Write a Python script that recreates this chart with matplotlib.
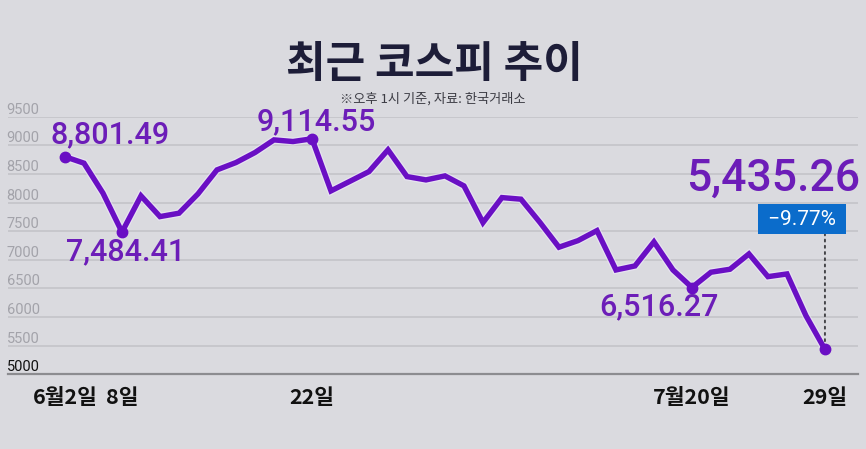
import matplotlib
matplotlib.use("Agg")
import matplotlib.pyplot as plt
import matplotlib.patheffects as pe

# ---------------- data ----------------
dates = ["6/2", "6/4", "6/5", "6/8", "6/9", "6/10", "6/11", "6/12", "6/15", "6/16",
         "6/17", "6/18", "6/19", "6/22", "6/23", "6/24", "6/25", "6/26", "6/29", "6/30",
         "7/1", "7/2", "7/3", "7/6", "7/7", "7/8", "7/9", "7/10", "7/13", "7/14",
         "7/15", "7/16", "7/17", "7/20", "7/21", "7/22", "7/23", "7/24", "7/27", "7/28",
         "7/29"]
kospi = [8801.49, 8688, 8164, 7484.41, 8117, 7755, 7814, 8152, 8571, 8699,
         8874, 9095, 9066, 9114.55, 8204, 8372, 8541, 8921, 8454, 8396,
         8466, 8291, 7650, 8087, 8059, 7653, 7220, 7335, 7510, 6823,
         6893, 7313, 6823, 6516.27, 6783, 6835, 7103, 6706, 6753, 6024,
         5435.26]
xtick_idx = [0, 3, 13, 33, 40]
xtick_labels = ["6월2일", "8일", "22일", "7월20일", "29일"]
ytick_vals = [5000, 5500, 6000, 6500, 7000, 7500, 8000, 8500, 9000, 9500]
ytick_labels = [str(v) for v in ytick_vals]
highlight_idx = [0, 3, 13, 33, 40]
change_label = "−9.77%"
title = "최근 코스피 추이"
subtitle = "※오후 1시 기준, 자료: 한국거래소"

# ---------------- style ----------------
BG = "#dadadf"
PURPLE = "#6a0fc4"
TXT_PURPLE = "#6c1db8"
KR = ["Noto Sans CJK KR", "DejaVu Sans"]
NUM = ["Roboto", "DejaVu Sans"]

W, H = 866, 449
fig = plt.figure(figsize=(W / 100, H / 100), dpi=100, facecolor=BG)

ax_left, ax_right = 8, 858
ax_top, ax_bottom = 116.7, 374.3
ax = fig.add_axes([ax_left / W, (H - ax_bottom) / H,
                   (ax_right - ax_left) / W, (ax_bottom - ax_top) / H])
ax.set_facecolor("none")
ax.set_xlim(-3.0, 41.74)
ax.set_ylim(5000, 9500)

for s in ["top", "right", "left"]:
    ax.spines[s].set_visible(False)
ax.spines["bottom"].set_color("#8c8c90")
ax.spines["bottom"].set_linewidth(1.6)

ax.set_yticks(ytick_vals)
ax.set_yticklabels(ytick_labels, ha="left", va="bottom", fontsize=10.5,
                   color="#a3a3aa", family=NUM)
ax.get_yticklabels()[0].set_color("#111111")
ax.tick_params(axis="y", length=0, pad=1)
ax.grid(axis="y", color="#c5c5ca", linewidth=1.3)
ax.set_axisbelow(True)

ax.set_xticks(xtick_idx)
ax.set_xticklabels(xtick_labels, fontsize=15.5, fontweight="bold",
                   color="#111111", family=KR)
ax.tick_params(axis="x", length=0, pad=9)

x = list(range(len(kospi)))
ax.plot(x, kospi, color=PURPLE, linewidth=3.9, solid_joinstyle="miter",
        solid_capstyle="round", zorder=3,
        path_effects=[pe.Stroke(linewidth=5.7, foreground="#f2ecff", alpha=0.55),
                      pe.Normal()])
ax.plot([x[i] for i in highlight_idx], [kospi[i] for i in highlight_idx],
        linestyle="none", marker="o", markersize=7.5, color=PURPLE, zorder=4)

def fmt(v):
    return f"{v:,.2f}"

# annotations (offsets in pixels from the data point)
offsets = {0: (45, 22, 22), 3: (4, -20, 22), 13: (4, 17, 22),
           33: (-33, -19, 22), 40: (-52, 171, 32)}
for i, (dx, dy, fs) in offsets.items():
    ax.annotate(fmt(kospi[i]), xy=(x[i], kospi[i]), xytext=(dx, dy),
                textcoords="offset pixels", ha="center", va="center",
                fontsize=fs, fontweight="medium", color=TXT_PURPLE,
                family=NUM, zorder=5)

last = len(kospi) - 1
ax.annotate("", xy=(x[last], kospi[last]), xytext=(0, 116),
            textcoords="offset pixels",
            arrowprops=dict(arrowstyle="-", linestyle=(0, (1, 2.2)),
                            color="#444448", linewidth=1.4,
                            shrinkA=0, shrinkB=4))
ax.annotate(" " + change_label + " ", xy=(x[last], kospi[last]), xytext=(-23, 130),
            textcoords="offset pixels", ha="center", va="center",
            fontsize=15, color="white", family=NUM, zorder=6,
            bbox=dict(boxstyle="square,pad=0.26", facecolor="#0b6ccb",
                      edgecolor="none"))

fig.text(434.5 / W, 1 - 64 / H, title, ha="center", va="center",
         fontsize=31, fontweight="black", color="#1d1d38", family=KR)
fig.text(433 / W, 1 - 99 / H, subtitle, ha="center", va="center",
         fontsize=9.5, color="#3c3c44", family=KR)

fig.savefig("out.png", dpi=100, facecolor=BG)
